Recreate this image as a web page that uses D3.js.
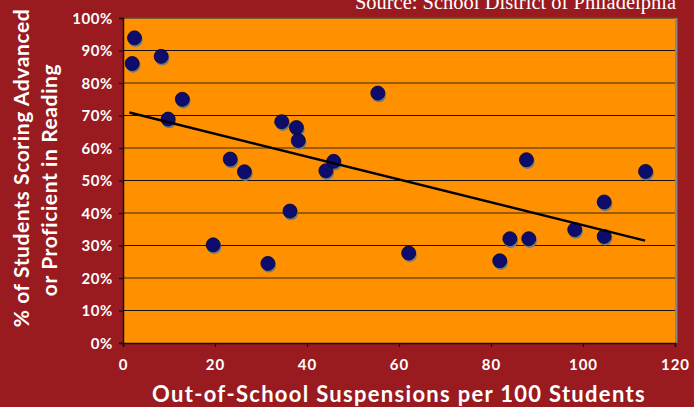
<!DOCTYPE html>
<html>
<head>
<meta charset="utf-8">
<script src="https://cdn.jsdelivr.net/npm/d3@7"></script>
<style>
  body { margin: 0; background: #991b1f; }
  svg { display: block; }
  .tick text { font-family: Lato, 'DejaVu Sans', sans-serif; font-weight: bold; fill: #fff; }
</style>
</head>
<body>
<svg id="canvas" width="694" height="407"></svg>
<script>
// suspensions per 100 students (x) vs share scoring advanced/proficient (y)
const suspensions = [2.5, 2.0, 8.3, 12.9, 9.8, 23.3, 26.4, 34.5, 37.7, 38.1, 44.1, 45.8,
    55.4, 19.6, 31.5, 36.3, 62.1, 81.9, 84.1, 88.2, 87.7, 98.2, 104.6, 104.6, 113.6];
const reading = [93.9, 86.0, 88.2, 75.0, 68.9, 56.6, 52.7, 68.1, 66.3, 62.3, 53.0, 55.9,
    76.9, 30.2, 24.5, 40.6, 27.7, 25.3, 32.1, 32.1, 56.4, 34.9, 43.4, 32.8, 52.8];
const trendX = [1.4, 113.5];
const trendY = [70.9, 31.5];
const xTicks = [0, 20, 40, 60, 80, 100, 120];
const yTicks = [0, 10, 20, 30, 40, 50, 60, 70, 80, 90, 100];

const canvas = d3.select('#canvas');

const plotLeft = 123, plotRight = 675, plotTop = 18, plotBottom = 343;

let xScale = d3.scaleLinear().domain([0, 120]).range([plotLeft, plotRight]);
let yScale = d3.scaleLinear().domain([0, 100]).range([plotBottom, plotTop]);

// plot background + right shadow edge
canvas.append('rect')
    .attr('x', plotRight).attr('y', plotTop)
    .attr('width', 2.5).attr('height', plotBottom - plotTop)
    .attr('fill', '#8a8580');
canvas.append('rect')
    .attr('x', plotLeft).attr('y', plotTop)
    .attr('width', plotRight - plotLeft).attr('height', plotBottom - plotTop)
    .attr('fill', '#ff9100');

// gridlines, alternating black and brown
canvas.selectAll('.grid')
    .data(yTicks.filter(d => d > 0))
    .enter()
    .append('line')
    .attr('class', 'grid')
    .attr('x1', plotLeft).attr('x2', plotRight)
    .attr('y1', d => yScale(d)).attr('y2', d => yScale(d))
    .attr('stroke', d => d === 100 ? '#5a4a30' : (d % 20 === 0 ? '#7a4a0c' : '#111'))
    .attr('stroke-width', d => d % 20 === 0 ? 1.6 : 1.2);

// axes
let xAxis = d3.axisBottom(xScale).tickValues(xTicks).tickSize(4).tickPadding(12);
let yAxis = d3.axisLeft(yScale).tickValues(yTicks).tickSize(4).tickPadding(6)
    .tickFormat(d => d + '%');

canvas.append('g')
    .attr('transform', 'translate(0,' + plotBottom + ')')
    .call(xAxis)
    .call(g => g.selectAll('text').attr('font-size', 15).attr('letter-spacing', 1));

canvas.append('g')
    .attr('transform', 'translate(' + plotLeft + ',0)')
    .call(yAxis)
    .call(g => g.selectAll('text').attr('font-size', 15).attr('letter-spacing', 0.6).attr('dy', '0.35em'));

canvas.selectAll('.domain').attr('stroke', '#111').attr('stroke-width', 1.5);
canvas.selectAll('.tick line').attr('stroke', '#111').attr('stroke-width', 1.2);

// points: shadow then dot
let points = d3.range(suspensions.length);

canvas.selectAll('.shadow')
    .data(points)
    .enter()
    .append('circle')
    .attr('class', 'shadow')
    .attr('cx', i => xScale(suspensions[i]) + 1)
    .attr('cy', i => yScale(reading[i]) + 2)
    .attr('r', 7.2)
    .attr('fill', '#6d7785');

canvas.selectAll('.dot')
    .data(points)
    .enter()
    .append('circle')
    .attr('class', 'dot')
    .attr('cx', i => xScale(suspensions[i]))
    .attr('cy', i => yScale(reading[i]))
    .attr('r', 7)
    .attr('fill', '#0e0c6c')
    .attr('stroke', '#05052a')
    .attr('stroke-width', 0.8);

// trend line
let line = d3.line()
    .x(i => xScale(trendX[i]))
    .y(i => yScale(trendY[i]));

canvas.append('path')
    .datum([0, 1])
    .attr('d', line)
    .attr('fill', 'none')
    .attr('stroke', '#000')
    .attr('stroke-width', 2.5);

// source note (clipped at the top edge, as in the original)
canvas.append('text')
    .text('Source: School District of Philadelphia')
    .attr('x', 676)
    .attr('y', 9)
    .attr('text-anchor', 'end')
    .attr('font-family', "'Liberation Serif', 'DejaVu Serif', serif")
    .attr('font-size', 20.5)
    .attr('fill', '#fff');

// axis titles
canvas.append('text')
    .text('Out-of-School Suspensions per 100 Students')
    .attr('x', 399)
    .attr('y', 402)
    .attr('text-anchor', 'middle')
    .attr('font-family', 'Lato, sans-serif')
    .attr('font-weight', 'bold')
    .attr('font-size', 22)
    .attr('letter-spacing', 1.3)
    .attr('fill', '#fff');

let yTitle = canvas.append('text')
    .attr('transform', 'rotate(-90)')
    .attr('text-anchor', 'middle')
    .attr('font-family', 'Lato, sans-serif')
    .attr('font-weight', 'bold')
    .attr('font-size', 21)
    .attr('letter-spacing', 0.6)
    .attr('fill', '#fff');

yTitle.append('tspan').attr('x', -168).attr('y', 29).text('% of Students Scoring Advanced');
yTitle.append('tspan').attr('x', -180).attr('y', 57).text('or Proficient in Reading');
</script>
</body>
</html>
